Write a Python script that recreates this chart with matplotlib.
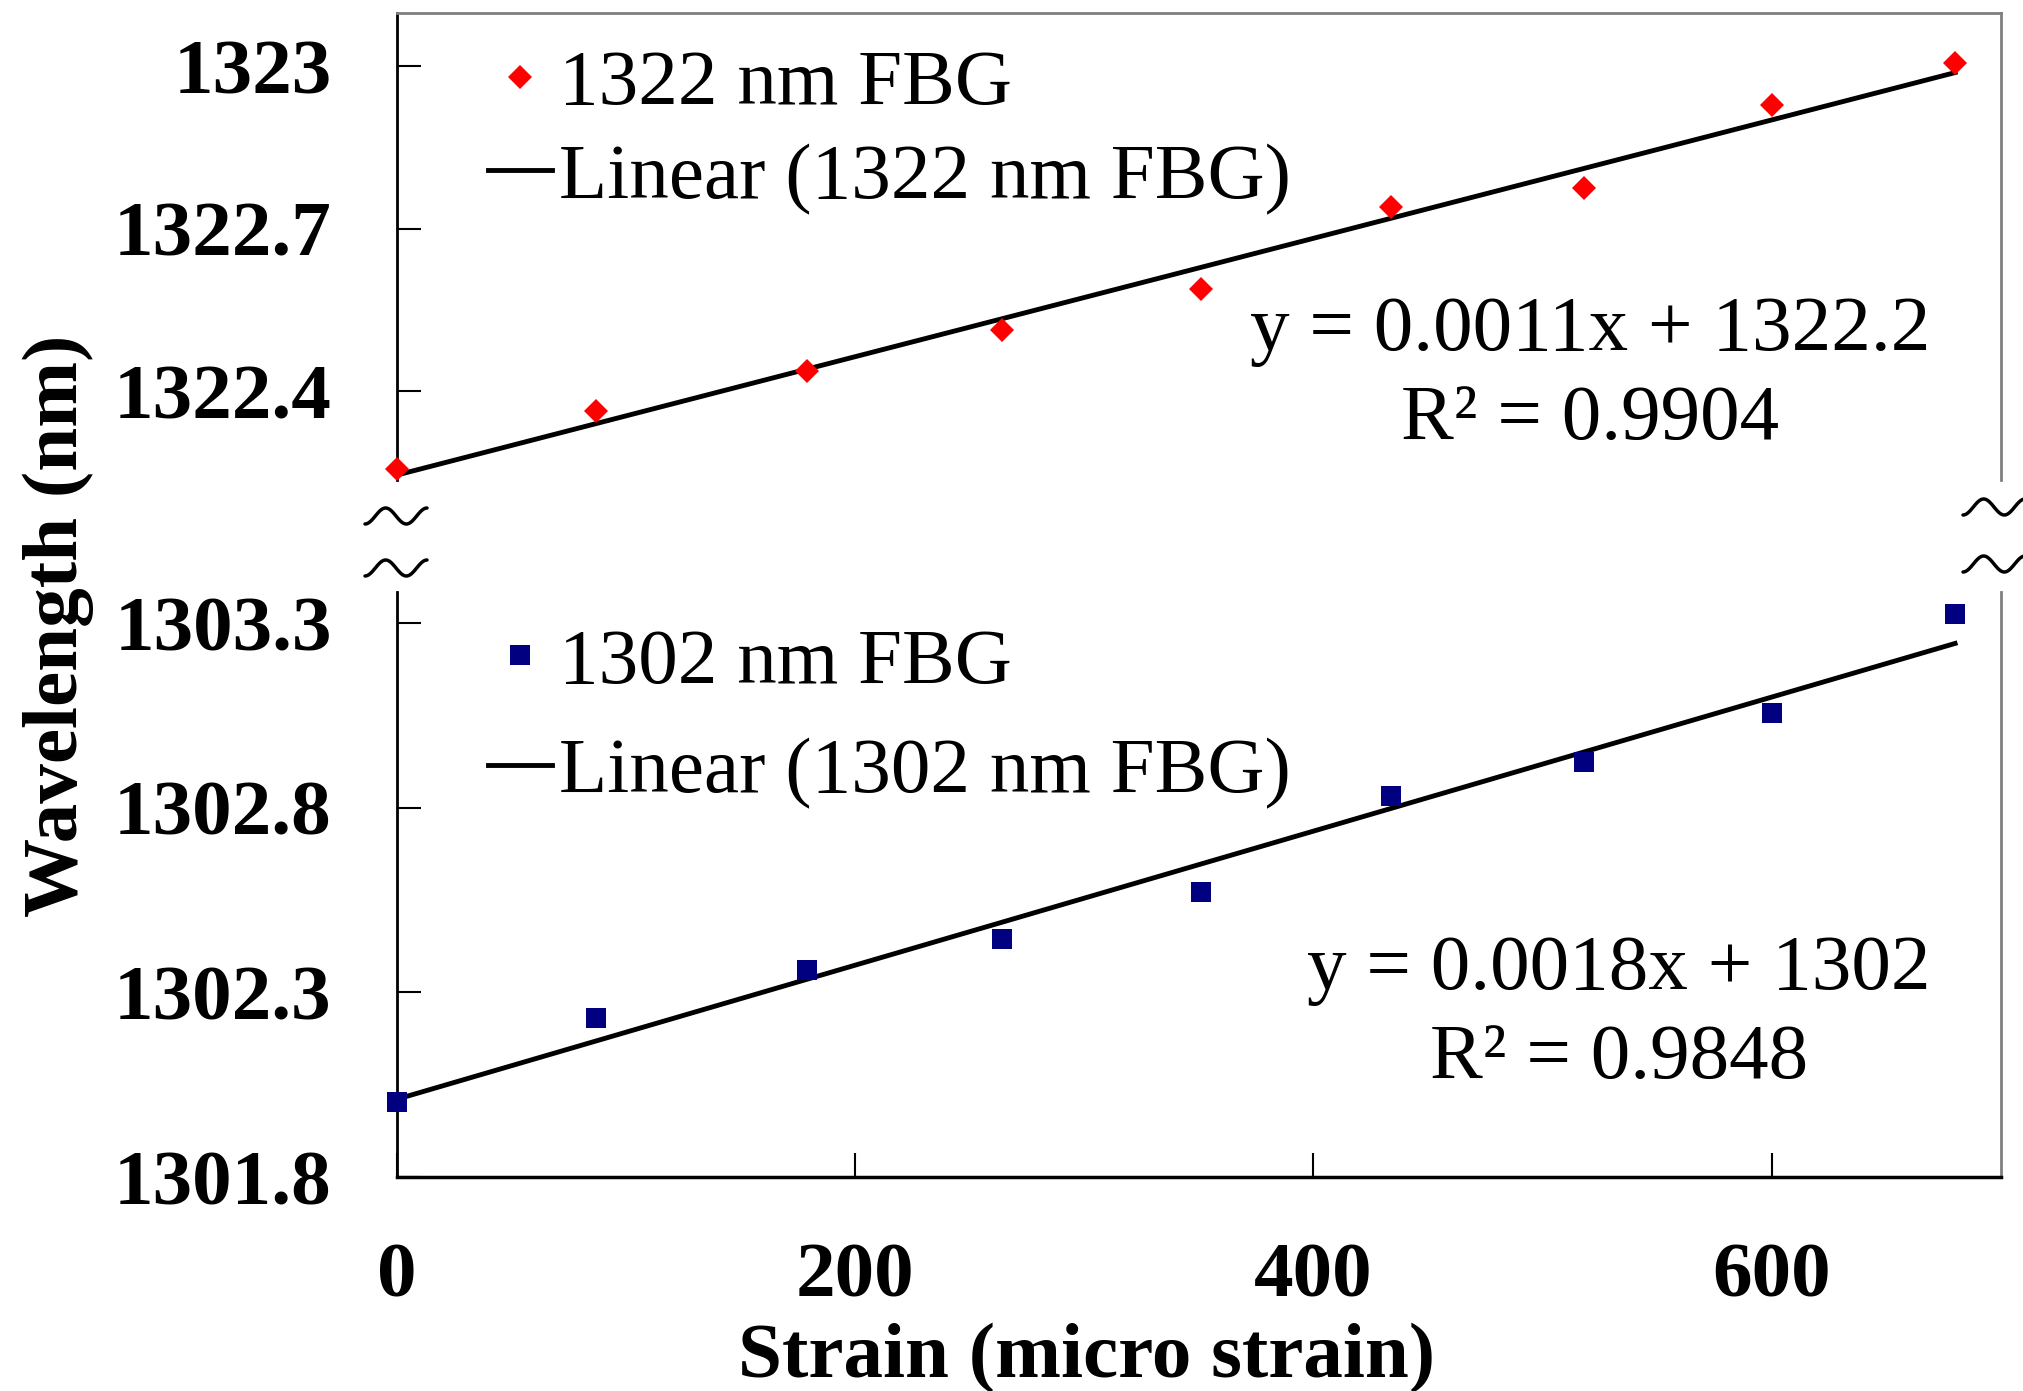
import numpy as np
import matplotlib
matplotlib.use('Agg')
import matplotlib.pyplot as plt
from matplotlib.lines import Line2D

# values
strain = [0, 87, 179, 264, 351, 434, 518, 600, 680]
fbg_1322 = [1322.257, 1322.364, 1322.438, 1322.512, 1322.589, 1322.739, 1322.775, 1322.928, 1323.005]
fbg_1302 = [1302.002, 1302.231, 1302.360, 1302.444, 1302.572, 1302.833, 1302.924, 1303.056, 1303.324]
top_ticks = [1322.4, 1322.7, 1323]
bottom_ticks = [1301.8, 1302.3, 1302.8, 1303.3]
x_ticks = [0, 200, 400, 600]
eq_1322 = 'y = 0.0011x + 1322.2\nR² = 0.9904'
eq_1302 = 'y = 0.0018x + 1302\nR² = 0.9848'

plt.rcParams['font.family'] = ['Liberation Serif', 'DejaVu Serif']
FS = 57

fig = plt.figure(figsize=(20.24, 13.91), dpi=100)
ax_top = fig.add_axes([0.1961, 0.6549, 0.7925, 0.3358])
ax_bot = fig.add_axes([0.1961, 0.1538, 0.7925, 0.4206])

x = np.array(strain)
xx = np.array([0, 680])

# upper panel
p1 = np.polyfit(x, fbg_1322, 1)
ax_top.plot(xx, np.polyval(p1, xx), color='black', lw=3.5, clip_on=False)
ax_top.plot(x, fbg_1322, 'D', color='red', ms=12.5, mew=0, clip_on=False, zorder=3)
ax_top.set_xlim(0, 700)
ax_top.set_ylim(1322.236, 1323.098)
ax_top.set_yticks(top_ticks, labels=[f'{t:g}' for t in top_ticks])
ax_top.set_xticks([])
ax_top.spines['bottom'].set_visible(False)

# lower panel
p2 = np.polyfit(x, fbg_1302, 1)
ax_bot.plot(xx, np.polyval(p2, xx), color='black', lw=3.5, clip_on=False)
ax_bot.plot(x, fbg_1302, 's', color='#000080', ms=14, mew=0, clip_on=False, zorder=3)
ax_bot.set_xlim(0, 700)
ax_bot.set_ylim(1301.8, 1303.384)
ax_bot.set_yticks(bottom_ticks, labels=[f'{t:g}' for t in bottom_ticks])
ax_bot.set_xticks(x_ticks, labels=[str(t) for t in x_ticks])
ax_bot.spines['top'].set_visible(False)

for ax in (ax_top, ax_bot):
    ax.tick_params(direction='in', length=17, width=1.5, labelsize=FS, pad=47)
    for lab in ax.get_xticklabels() + ax.get_yticklabels():
        lab.set_fontweight('bold')
    ax.spines['left'].set_linewidth(2)
    ax.spines['bottom'].set_linewidth(2.5)
    ax.spines['right'].set_color('#808080')
    ax.spines['right'].set_linewidth(2)
    ax.spines['top'].set_color('#808080')
    ax.spines['top'].set_linewidth(2)

ax_bot.set_xlabel('Strain (micro strain)', fontsize=FS, fontweight='bold')
ax_bot.xaxis.set_label_coords(0.43, -0.25)
fig.text(0.0286, 0.55, 'Wavelength (nm)', rotation=90, fontsize=FS, fontweight='bold',
         ha='center', va='center')

# legends
h1 = [Line2D([], [], ls='none', marker='D', color='red', ms=12.5, mew=0),
      Line2D([], [], color='black', lw=3.5)]
ax_top.legend(h1, ['1322 nm FBG', 'Linear (1322 nm FBG)'], loc='upper left',
              bbox_to_anchor=(0.0567, 0.923), frameon=False, fontsize=FS,
              handlelength=0.81, handletextpad=0.09, labelspacing=0.27,
              borderpad=0, borderaxespad=0)
h2 = [Line2D([], [], ls='none', marker='s', color='#000080', ms=14, mew=0),
      Line2D([], [], color='black', lw=3.5)]
ax_bot.legend(h2, ['1302 nm FBG', 'Linear (1302 nm FBG)'], loc='upper left',
              bbox_to_anchor=(0.0567, 0.9395), frameon=False, fontsize=FS,
              handlelength=0.81, handletextpad=0.09, labelspacing=0.47,
              borderpad=0, borderaxespad=0)

# trendline equations
ax_top.text(0.744, 0.223, eq_1322, transform=ax_top.transAxes, fontsize=FS,
            ha='center', va='center', multialignment='center', linespacing=1.32)
ax_bot.text(0.762, 0.277, eq_1302, transform=ax_bot.transAxes, fontsize=FS,
            ha='center', va='center', multialignment='center', linespacing=1.32)

# axis break marks (two small waves on each side)
t = np.linspace(0, 1, 60)
wave_x = (t - 0.5) * 62
wave_y = 8 * np.sin(-np.pi / 2 + 3 * np.pi * t)
for bx, by in [(396, 516), (396, 568), (1994, 507), (1994, 564)]:
    fig.add_artist(Line2D((bx + wave_x) / 2024, (1391 - by + wave_y) / 1391,
                          transform=fig.transFigure, color='black', lw=2.5,
                          solid_capstyle='round'))

fig.savefig('out.png', dpi=100)
